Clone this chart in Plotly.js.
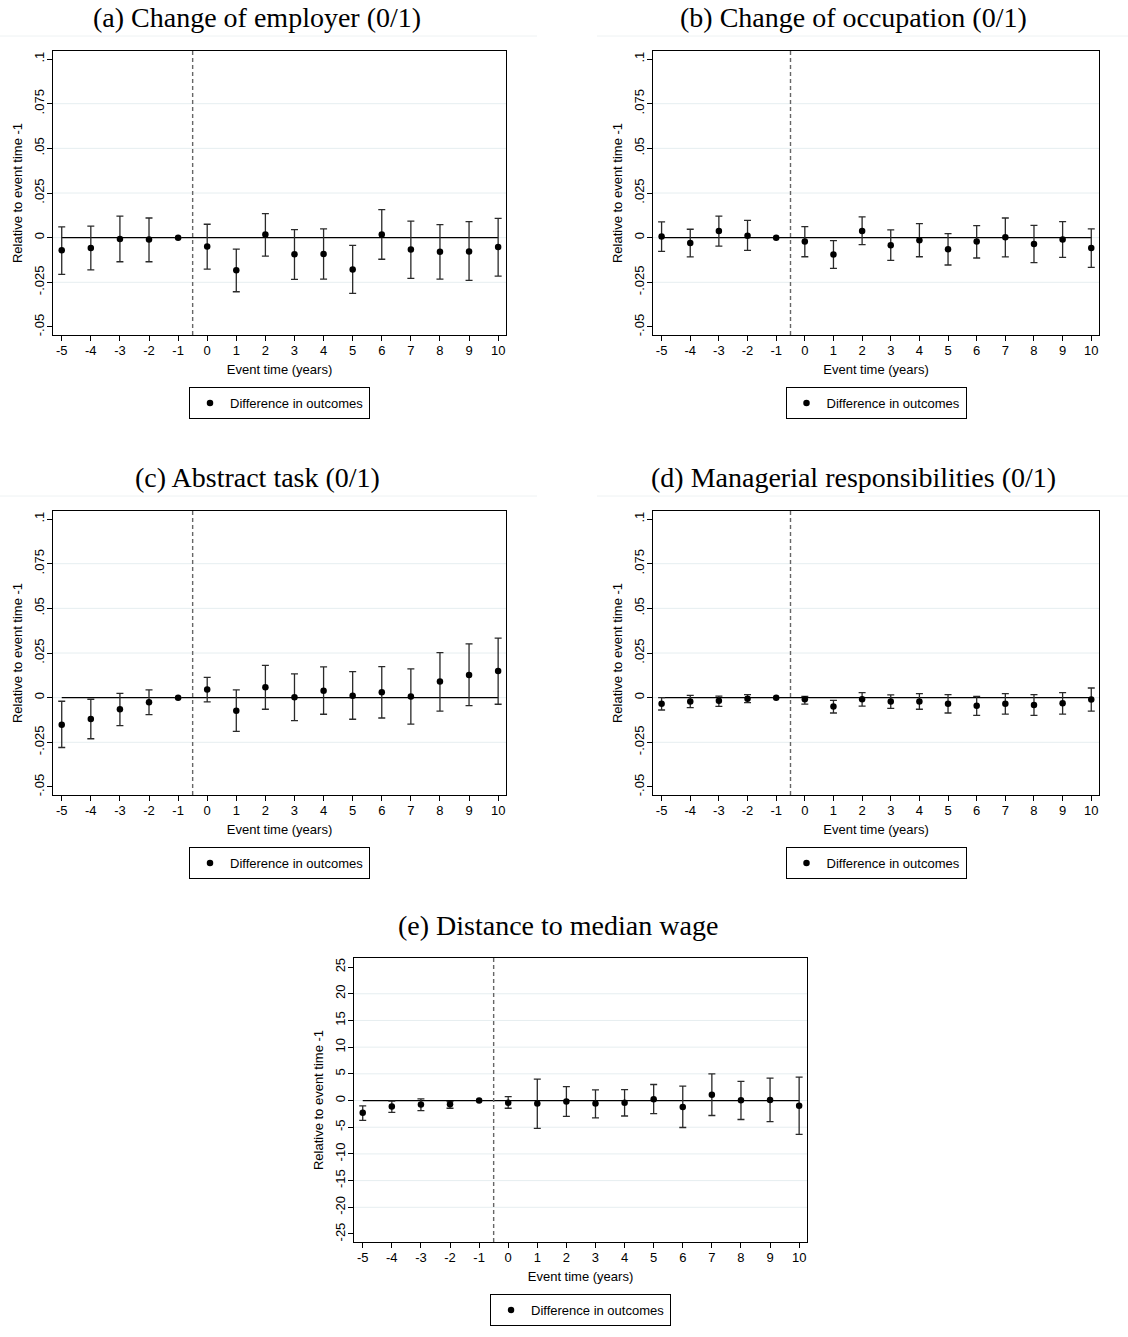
<!DOCTYPE html>
<html>
<head>
<meta charset="utf-8">
<script src="https://cdn.plot.ly/plotly-3.0.1.min.js"></script>
<style>
  html, body { margin: 0; padding: 0; background: #fff; }
  #divPlot { width: 1128px; height: 1337px; }
</style>
</head>
<body>
<div id="divPlot"></div>
<script>
const eventTime = [-5, -4, -3, -2, -1, 0, 1, 2, 3, 4, 5, 6, 7, 8, 9, 10];

// (a) change of employer
const employerEst = [-0.0071, -0.0058, -0.0007, -0.0011, 0, -0.0049, -0.0183, 0.0017, -0.0093, -0.0092, -0.0178, 0.0017, -0.0067, -0.0079, -0.0077, -0.0052];
const employerHi = [0.0060, 0.0065, 0.0121, 0.0110, 0, 0.0075, -0.0064, 0.0135, 0.0045, 0.0049, -0.0043, 0.0157, 0.0093, 0.0073, 0.0090, 0.0108];
const employerLo = [-0.0206, -0.0180, -0.0135, -0.0135, 0, -0.0176, -0.0303, -0.0103, -0.0234, -0.0232, -0.0312, -0.0121, -0.0228, -0.0232, -0.0239, -0.0215];

// (b) change of occupation
const occupationEst = [0.0006, -0.0030, 0.0037, 0.0011, 0, -0.0021, -0.0095, 0.0037, -0.0043, -0.0015, -0.0065, -0.0022, 0.0002, -0.0036, -0.0011, -0.0058];
const occupationHi = [0.0088, 0.0047, 0.0121, 0.0097, 0, 0.0062, -0.0017, 0.0116, 0.0043, 0.0079, 0.0022, 0.0067, 0.0110, 0.0069, 0.0090, 0.0049];
const occupationLo = [-0.0077, -0.0108, -0.0047, -0.0071, 0, -0.0107, -0.0172, -0.0039, -0.0127, -0.0107, -0.0153, -0.0114, -0.0108, -0.0140, -0.0110, -0.0166];

// (c) abstract task
const abstractEst = [-0.0151, -0.0120, -0.0065, -0.0026, 0, 0.0045, -0.0073, 0.0058, 0.0002, 0.0039, 0.0011, 0.0030, 0.0007, 0.0090, 0.0127, 0.0149];
const abstractHi = [-0.0020, -0.0009, 0.0024, 0.0043, 0, 0.0114, 0.0043, 0.0181, 0.0133, 0.0172, 0.0146, 0.0174, 0.0161, 0.0252, 0.0301, 0.0333];
const abstractLo = [-0.0279, -0.0230, -0.0157, -0.0095, 0, -0.0024, -0.0189, -0.0065, -0.0129, -0.0093, -0.0121, -0.0114, -0.0148, -0.0075, -0.0045, -0.0037];

// (d) managerial responsibilities
const managerEst = [-0.0034, -0.0022, -0.0017, -0.0006, 0, -0.0009, -0.0050, -0.0009, -0.0022, -0.0021, -0.0034, -0.0045, -0.0034, -0.0041, -0.0032, -0.0011];
const managerHi = [0.0000, 0.0013, 0.0009, 0.0017, 0, 0.0007, -0.0015, 0.0028, 0.0015, 0.0022, 0.0017, 0.0007, 0.0022, 0.0017, 0.0028, 0.0054];
const managerLo = [-0.0069, -0.0056, -0.0049, -0.0028, 0, -0.0036, -0.0086, -0.0047, -0.0060, -0.0065, -0.0086, -0.0099, -0.0092, -0.0099, -0.0092, -0.0075];

// (e) distance to median wage
const wageEst = [-2.3, -1.1, -0.75, -0.7, 0, -0.4, -0.55, -0.2, -0.55, -0.4, 0.25, -1.2, 1.1, 0.05, 0.1, -1.0];
const wageHi = [-1.0, -0.1, 0.3, -0.2, 0, 0.75, 4.0, 2.6, 2.0, 2.05, 3.0, 2.7, 5.0, 3.6, 4.2, 4.4];
const wageLo = [-3.7, -2.2, -1.9, -1.45, 0, -1.45, -5.2, -2.95, -3.25, -2.9, -2.45, -5.05, -2.8, -3.55, -3.95, -6.35];

const shareTicks = [-0.05, -0.025, 0, 0.025, 0.05, 0.075, 0.1];
const shareTickText = ['-.05', '-.025', '0', '.025', '.05', '.075', '.1'];
const wageTicks = [-25, -20, -15, -10, -5, 0, 5, 10, 15, 20, 25];

const panelTitles = [
  '(a) Change of employer (0/1)',
  '(b) Change of occupation (0/1)',
  '(c) Abstract task (0/1)',
  '(d) Managerial responsibilities (0/1)',
  '(e) Distance to median wage'
];

const W = 1128, H = 1337;
const px = v => v / W;
const py = v => 1 - v / H;

const labelFont = {family : 'Liberation Sans, Arial, sans-serif', size : 13, color : '#000'};

const panels = [
  {est : employerEst, hi : employerHi, lo : employerLo, box : [53, 506, 51, 335], ticks : shareTicks, text : shareTickText, yr : [-0.0545, 0.1045], tx : 257, ty : 17, leg : 387},
  {est : occupationEst, hi : occupationHi, lo : occupationLo, box : [653, 1099, 51, 335], ticks : shareTicks, text : shareTickText, yr : [-0.0545, 0.1045], tx : 853, ty : 17, leg : 387},
  {est : abstractEst, hi : abstractHi, lo : abstractLo, box : [53, 506, 511, 795], ticks : shareTicks, text : shareTickText, yr : [-0.0545, 0.1045], tx : 257, ty : 477, leg : 847},
  {est : managerEst, hi : managerHi, lo : managerLo, box : [653, 1099, 511, 795], ticks : shareTicks, text : shareTickText, yr : [-0.0545, 0.1045], tx : 853, ty : 477, leg : 847},
  {est : wageEst, hi : wageHi, lo : wageLo, box : [354, 807, 958, 1242], ticks : wageTicks, text : wageTicks.map(String), yr : [-26.5, 26.7], tx : 558, ty : 925, leg : 1294}
];

const data = [];
const layout = {
  width : W,
  height : H,
  margin : {l : 0, r : 0, t : 0, b : 0},
  paper_bgcolor : '#fff',
  plot_bgcolor : '#fff',
  showlegend : true,
  annotations : [],
  shapes : [
    {type : 'line', xref : 'paper', yref : 'paper', x0 : 0, x1 : px(537), y0 : py(36), y1 : py(36), line : {color : '#eef2f3', width : 1}},
    {type : 'line', xref : 'paper', yref : 'paper', x0 : px(597), x1 : 1, y0 : py(36), y1 : py(36), line : {color : '#eef2f3', width : 1}},
    {type : 'line', xref : 'paper', yref : 'paper', x0 : 0, x1 : px(537), y0 : py(496), y1 : py(496), line : {color : '#eef2f3', width : 1}},
    {type : 'line', xref : 'paper', yref : 'paper', x0 : px(597), x1 : 1, y0 : py(496), y1 : py(496), line : {color : '#eef2f3', width : 1}}
  ]
};

panels.forEach((p, i) => {
  const n = i === 0 ? '' : String(i + 1);
  const xa = 'x' + n, ya = 'y' + n;
  const lg = 'legend' + n;
  const [l, r, t, b] = p.box;

  // light grid lines at interior ticks
  p.ticks.slice(1, -1).forEach(v => {
    layout.shapes.push({
      type : 'line', xref : xa + ' domain', yref : ya,
      x0 : 0, x1 : 1, y0 : v, y1 : v,
      layer : 'below',
      line : {color : '#e6eef0', width : 1}
    });
  });

  // horizontal reference line at zero
  data.push({
    x : [eventTime[0], eventTime[eventTime.length - 1]],
    y : [0, 0],
    xaxis : xa, yaxis : ya,
    mode : 'lines',
    line : {color : '#000', width : 1.3},
    showlegend : false,
    hoverinfo : 'skip'
  });

  data.push({
    x : eventTime,
    y : p.est,
    xaxis : xa, yaxis : ya,
    type : 'scatter',
    mode : 'markers',
    name : 'Difference in outcomes',
    legend : lg,
    marker : {color : '#000', size : 6.5, symbol : 'circle'},
    error_y : {
      type : 'data',
      symmetric : false,
      array : p.hi.map((h, k) => h - p.est[k]),
      arrayminus : p.est.map((e, k) => e - p.lo[k]),
      color : '#2a2a2a',
      thickness : 1.3,
      width : 3.5
    }
  });

  layout['xaxis' + n] = {
    domain : [px(l), px(r)],
    anchor : ya,
    range : [-5.3, 10.27],
    tickvals : eventTime,
    ticktext : eventTime.map(String),
    ticks : 'outside', ticklen : 5, tickcolor : '#000',
    ticklabelstandoff : -2,
    showline : true, mirror : true, linecolor : '#000', linewidth : 1,
    showgrid : false, zeroline : false,
    tickfont : labelFont,
    title : {text : 'Event time (years)', font : labelFont, standoff : 8}
  };
  layout['yaxis' + n] = {
    domain : [py(b), py(t)],
    anchor : xa,
    range : p.yr,
    tickvals : p.ticks,
    ticktext : p.text,
    tickangle : -90,
    ticks : 'outside', ticklen : 5, tickcolor : '#000',
    ticklabelstandoff : -2,
    showline : true, mirror : true, linecolor : '#000', linewidth : 1,
    showgrid : false, zeroline : false,
    tickfont : labelFont,
    title : {text : 'Relative to event time -1', font : labelFont, standoff : 6}
  };

  // dashed event line
  layout.shapes.push({
    type : 'line', xref : xa, yref : ya + ' domain',
    x0 : -0.5, x1 : -0.5, y0 : 0, y1 : 1,
    line : {color : '#666', width : 1.4, dash : '4px,3px'}
  });

  layout[lg] = {
    x : px((l + r) / 2), y : py(p.leg),
    xanchor : 'center', yanchor : 'top',
    bordercolor : '#000', borderwidth : 1,
    bgcolor : '#fff',
    font : labelFont,
    itemwidth : 30
  };

  layout.annotations.push({
    text : panelTitles[i],
    xref : 'paper', yref : 'paper',
    x : px(p.tx), y : py(p.ty),
    xanchor : 'center', yanchor : 'middle',
    showarrow : false,
    font : {family : 'Liberation Serif, Times New Roman, serif', size : 28, color : '#000'}
  });
});

Plotly.newPlot('divPlot', data, layout, {staticPlot : true});
</script>
</body>
</html>
